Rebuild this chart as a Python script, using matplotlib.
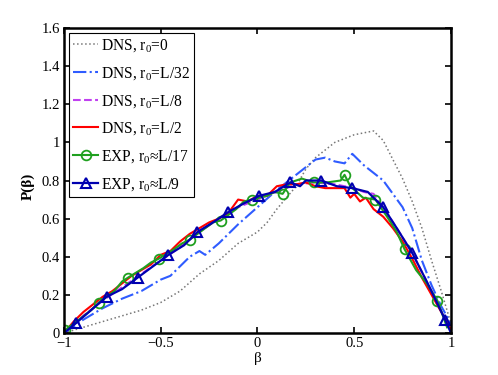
import matplotlib
matplotlib.use("Agg")
import matplotlib.pyplot as plt
import numpy as np

plt.rcParams['font.family'] = ['Liberation Serif', 'DejaVu Serif']
plt.rcParams['mathtext.fontset'] = 'custom'
plt.rcParams['mathtext.rm'] = 'Liberation Serif'
plt.rcParams['mathtext.it'] = 'Liberation Serif:italic'

# DNS, r0 = 0 (dotted)
x_dns0 = [-1, -0.9, -0.8, -0.7, -0.6, -0.5, -0.4, -0.3, -0.2, -0.1, 0, 0.05, 0.1, 0.15,
          0.2, 0.25, 0.3, 0.35, 0.4, 0.45, 0.5, 0.55, 0.6, 0.65, 0.7, 0.75, 0.8, 0.85,
          0.9, 0.95, 1.0]
y_dns0 = [0, 0.03, 0.06, 0.09, 0.12, 0.16, 0.22, 0.31, 0.38, 0.47, 0.53, 0.58, 0.65, 0.71,
          0.77, 0.86, 0.92, 0.96, 1.0, 1.02, 1.04, 1.05, 1.06, 1.01, 0.91, 0.81, 0.69, 0.55,
          0.38, 0.22, 0.05]

# DNS, r0 = L/32 (dash-dot)
x_dns32 = [-1, -0.9, -0.8, -0.7, -0.6, -0.5, -0.45, -0.4, -0.35, -0.3, -0.27, -0.2, -0.1,
           0, 0.1, 0.2, 0.25, 0.3, 0.35, 0.4, 0.45, 0.49, 0.55, 0.6, 0.65, 0.7, 0.75, 0.8,
           0.85, 0.9, 0.95, 1.0]
y_dns32 = [0, 0.07, 0.13, 0.18, 0.22, 0.28, 0.30, 0.35, 0.40, 0.43, 0.41, 0.47, 0.57,
           0.66, 0.75, 0.83, 0.87, 0.91, 0.92, 0.90, 0.89, 0.94, 0.88, 0.84, 0.80, 0.73,
           0.66, 0.55, 0.38, 0.25, 0.14, 0.05]

# DNS, r0 = L/8 (dashed)
x_dns8 = [-1, -0.9, -0.8, -0.7, -0.6, -0.5, -0.4, -0.3, -0.2, -0.1, 0, 0.1, 0.2, 0.3,
          0.4, 0.5, 0.55, 0.6, 0.62, 0.65, 0.72, 0.8, 0.88, 0.97]
y_dns8 = [0, 0.09, 0.17, 0.24, 0.31, 0.38, 0.45, 0.53, 0.60, 0.66, 0.70, 0.74, 0.78, 0.79,
          0.78, 0.76, 0.74, 0.73, 0.70, 0.66, 0.55, 0.42, 0.26, 0.07]

# DNS, r0 = L/2 (solid red)
x_dns2 = [-1, -0.95, -0.9, -0.85, -0.8, -0.75, -0.7, -0.65, -0.6, -0.55, -0.5, -0.45,
          -0.4, -0.35, -0.3, -0.25, -0.2, -0.15, -0.1, -0.05, 0, 0.05, 0.1, 0.15, 0.2,
          0.25, 0.3, 0.35, 0.4, 0.45, 0.48, 0.5, 0.53, 0.56, 0.6, 0.65, 0.7, 0.75, 0.8,
          0.85, 0.9, 0.95, 1.0]
y_dns2 = [0, 0.06, 0.11, 0.15, 0.19, 0.22, 0.26, 0.30, 0.33, 0.36, 0.41, 0.43, 0.48,
          0.52, 0.55, 0.58, 0.60, 0.63, 0.70, 0.69, 0.72, 0.72, 0.77, 0.78, 0.78, 0.79,
          0.77, 0.76, 0.76, 0.76, 0.71, 0.73, 0.69, 0.71, 0.65, 0.61, 0.55, 0.48, 0.39,
          0.29, 0.20, 0.11, 0.02]

# EXP, r0 ~ L/17 (green circles, marker on every 3rd point)
x_exp17 = [-0.995, -0.91, -0.86, -0.82, -0.74, -0.70, -0.67, -0.59, -0.55, -0.51, -0.43,
           -0.39, -0.35, -0.27, -0.23, -0.19, -0.11, -0.07, -0.03, 0.05, 0.09, 0.13, 0.17,
           0.23, 0.29, 0.36, 0.43, 0.45, 0.48, 0.545, 0.61, 0.67, 0.72, 0.76, 0.82, 0.875,
           0.93, 0.98]
y_exp17 = [0.015, 0.08, 0.12, 0.16, 0.22, 0.27, 0.29, 0.34, 0.37, 0.39, 0.44, 0.47, 0.49,
           0.55, 0.58, 0.59, 0.65, 0.69, 0.70, 0.72, 0.74, 0.73, 0.79, 0.81, 0.79, 0.79,
           0.80, 0.83, 0.77, 0.71, 0.70, 0.61, 0.53, 0.44, 0.33, 0.26, 0.17, 0.03]
mk_exp17 = [0, 3, 6, 9, 12, 15, 18, 21, 24, 27, 30, 33, 36]

# EXP, r0 ~ L/9 (blue triangles)
x_exp9 = [-1, -0.94, -0.86, -0.78, -0.70, -0.62, -0.54, -0.46, -0.38, -0.31, -0.23, -0.15,
          -0.07, 0.01, 0.09, 0.17, 0.22, 0.25, 0.33, 0.41, 0.49, 0.57, 0.65, 0.72, 0.80,
          0.88, 0.97, 1.0]
y_exp9 = [0, 0.05, 0.12, 0.19, 0.23, 0.29, 0.35, 0.41, 0.46, 0.53, 0.58, 0.635, 0.68,
          0.72, 0.74, 0.79, 0.77, 0.80, 0.80, 0.77, 0.76, 0.74, 0.66, 0.55, 0.42, 0.26,
          0.07, 0.0]
mk_exp9 = [1, 3, 5, 7, 9, 11, 13, 15, 18, 20, 22, 24, 26]

labels = ['DNS, r$_0$=0', 'DNS, r$_0$=L/32', 'DNS, r$_0$=L/8', 'DNS, r$_0$=L/2',
          'EXP, r$_0$\u2248L/17', 'EXP, r$_0$\u2248L/9']

fig = plt.figure(figsize=(4.98, 3.75), dpi=100)
ax = fig.add_axes([0.1285, 0.112, 0.777, 0.8133])

ax.plot(x_dns0, y_dns0, ':', color='#777777', lw=1.1, label=labels[0])
ax.plot(x_dns32, y_dns32, '-.', color='#2f5cff', lw=1.5, label=labels[1])
ax.plot(x_dns8, y_dns8, '--', color='#c040f0', lw=1.5, label=labels[2])
ax.plot(x_dns2, y_dns2, '-', color='#ff0000', lw=1.5, label=labels[3])
ax.plot(x_exp17, y_exp17, '-', color='#1fa01f', lw=1.5, marker='o', markersize=7,
        markerfacecolor='none', markeredgewidth=1.3, markevery=mk_exp17, label=labels[4])
ax.plot(x_exp9, y_exp9, '-', color='#0000b0', lw=1.6, marker='^', markersize=7,
        markerfacecolor='none', markeredgewidth=1.5, markevery=mk_exp9, label=labels[5])

ax.set_xlim(-1, 1)
ax.set_ylim(0, 1.6)
ax.set_xticks([-1, -0.5, 0, 0.5, 1])
ax.set_xticklabels(['\u22121', '\u22120.5', '0', '0.5', '1'])
ax.set_yticks([0, 0.2, 0.4, 0.6, 0.8, 1.0, 1.2, 1.4, 1.6])
ax.set_yticklabels(['0', '0.2', '0.4', '0.6', '0.8', '1', '1.2', '1.4', '1.6'])
ax.tick_params(direction='in', length=4, width=1.2, top=True, right=True, labelsize=10.5, pad=3)
for s in ax.spines.values():
    s.set_linewidth(1.8)

ax.set_xlabel('\u03b2', fontsize=11, labelpad=1)
ax.set_ylabel('P(\u03b2)', fontsize=11, fontweight='bold')
ax.yaxis.set_label_coords(-0.075, 0.48)

leg = ax.legend(loc='upper left', fontsize=11.2, handlelength=1.6, handletextpad=0.15,
                labelspacing=0.7, borderaxespad=0.3, borderpad=0.3, fancybox=False,
                framealpha=1, edgecolor='black')
leg.get_frame().set_linewidth(0.8)

fig.savefig('out.png', dpi=100)
